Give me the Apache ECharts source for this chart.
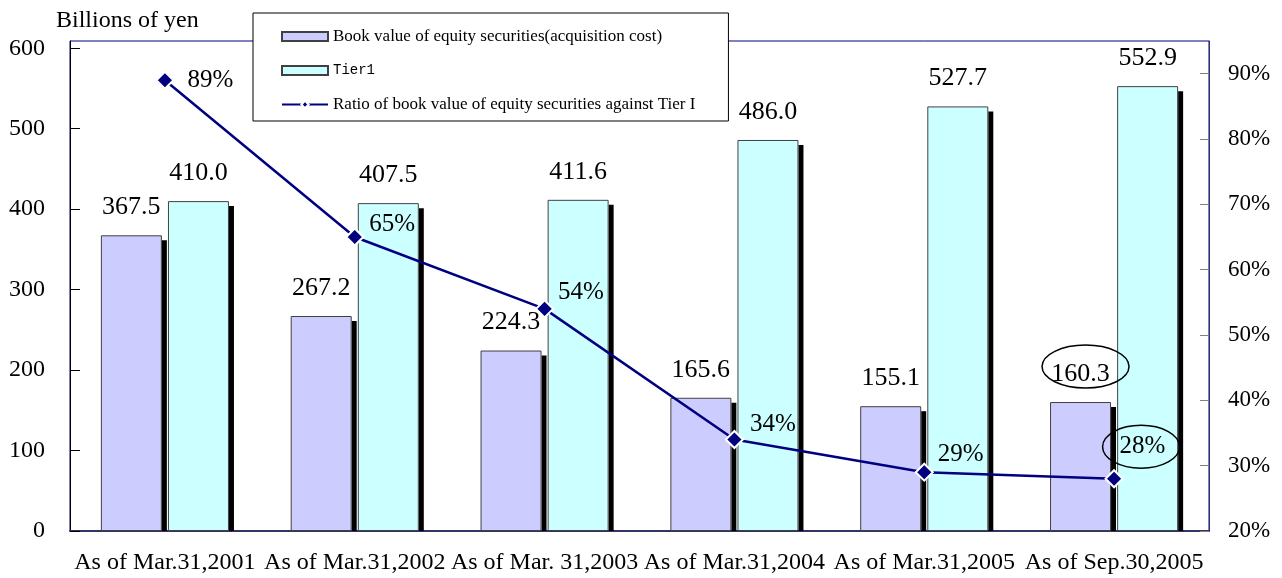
<!DOCTYPE html>
<html lang="en">
<head>
    <meta charset="UTF-8">
    <title>Equity securities vs Tier1</title>
    <script src="https://cdn.jsdelivr.net/npm/echarts@6/dist/echarts.min.js"></script>
    <style>
        * {
            margin: 0;
            padding: 0;
        }
        html, body {
            width: 100%;
            height: 100%;
            background: #fff;
        }
    </style>
</head>
<body>
<div id="main" style="width: 1282px;height: 578px"></div>
<script>
    var categories = ['As of Mar.31,2001', 'As of Mar.31,2002', 'As of Mar. 31,2003',
        'As of Mar.31,2004', 'As of Mar.31,2005', 'As of Sep.30,2005'];
    var bookValue = [367.5, 267.2, 224.3, 165.6, 155.1, 160.3];
    var tier1 = [410.0, 407.5, 411.6, 486.0, 527.7, 552.9];
    var ratio = [89, 65, 54, 34, 29, 28];
    // label nudges for the ratio line (px), kept apart from the values
    var ratioLabelOffset = [[8, 0], [0, -13], [-1, -16], [1, -15], [-1, -18], [-9, -32]];

    var FONT = '"Liberation Serif", "Times New Roman", serif';
    var BAR_W = 61, BAR_GAP = 6.1, SH = 5;

    function shadow(side) {
        // black drop shadow on the right side of each bar
        return function (params, api) {
            var top = api.coord([api.value(0), api.value(1)]);
            var base = api.coord([api.value(0), 0]);
            var x = top[0] + side * (BAR_W + BAR_GAP) / 2 + BAR_W / 2;
            return {
                type: 'rect',
                shape: {x: x, y: top[1] + SH, width: SH, height: base[1] - top[1] - SH},
                style: {fill: '#000'}
            };
        };
    }

    function ring(dx, dy, rx, ry) {
        return function (params, api) {
            var p = api.coord([api.value(0), api.value(1)]);
            return {
                type: 'ellipse',
                shape: {cx: p[0] + dx, cy: p[1] + dy, rx: rx, ry: ry},
                style: {fill: 'none', stroke: '#000', lineWidth: 1.5},
                z2: 10
            };
        };
    }

    var last = categories.length - 1;
    var myChart = echarts.init(document.getElementById('main'));
    var option = {
        animation: false,
        textStyle: {fontFamily: FONT, color: '#000'},
        title: {
            text: 'Billions of yen',
            left: 51,
            top: 4,
            textStyle: {fontFamily: FONT, fontWeight: 'normal', fontSize: 24, color: '#000'}
        },
        legend: {
            data: [
                {name: 'Book value of equity securities(acquisition cost)', icon: 'rect'},
                {name: 'Tier1', icon: 'rect'},
                {name: 'Ratio of book value of equity securities against Tier I'}
            ],
            orient: 'vertical',
            left: 253,
            top: 13,
            padding: [15, 33, 8, 28],
            itemGap: 18.5,
            itemWidth: 46,
            itemHeight: 9,
            backgroundColor: '#fff',
            borderColor: '#000',
            borderWidth: 1,
            formatter: function (name) {
                return name === 'Tier1' ? '{m|Tier1}' : name;
            },
            textStyle: {
                fontFamily: FONT, fontSize: 17, color: '#000',
                rich: {m: {fontFamily: '"Liberation Mono", monospace', fontSize: 14, color: '#000'}}
            }
        },
        grid: {
            left: 70,
            right: 73,
            top: 41,
            bottom: 47,
            show: true,
            borderColor: '#000080',
            borderWidth: 1
        },
        xAxis: {
            type: 'category',
            data: categories,
            axisLine: {lineStyle: {color: '#333366', width: 2}},
            axisTick: {inside: true, length: 8, lineStyle: {color: '#808080'}},
            axisLabel: {
                interval: 0,
                hideOverlap: false,
                margin: 20,
                fontFamily: FONT,
                fontSize: 24,
                color: '#000'
            }
        },
        yAxis: [{
            type: 'value',
            min: 0,
            max: 609,
            interval: 100,
            axisLine: {show: true, lineStyle: {color: '#000', width: 1}},
            axisTick: {show: true, inside: true, length: 10, lineStyle: {color: '#000'}},
            axisLabel: {showMaxLabel: false, margin: 25, fontFamily: FONT, fontSize: 24, color: '#000'},
            splitLine: {show: false}
        }, {
            type: 'value',
            min: 20,
            max: 95,
            interval: 10,
            position: 'right',
            axisLine: {show: true, lineStyle: {color: '#333366', width: 1}},
            axisTick: {show: true, inside: true, length: 9, lineStyle: {color: '#808080'}},
            axisLabel: {
                showMaxLabel: false, margin: 19, fontFamily: FONT, fontSize: 23, color: '#000',
                formatter: '{value}%'
            },
            splitLine: {show: false}
        }],
        series: [{
            type: 'custom',
            renderItem: shadow(-1),
            data: bookValue.map(function (v, i) { return [i, v]; }),
            z: 1,
            silent: true
        }, {
            type: 'custom',
            renderItem: shadow(1),
            data: tier1.map(function (v, i) { return [i, v]; }),
            z: 1,
            silent: true
        }, {
            name: 'Book value of equity securities(acquisition cost)',
            type: 'bar',
            data: bookValue,
            barWidth: BAR_W,
            barGap: '10%',
            z: 2,
            itemStyle: {color: '#CCCCFF', borderColor: '#404040', borderWidth: 1},
            label: {
                show: true,
                position: 'top',
                distance: 15,
                fontFamily: FONT,
                fontSize: 26,
                color: '#000',
                formatter: function (p) { return p.value.toFixed(1); }
            }
        }, {
            name: 'Tier1',
            type: 'bar',
            data: tier1,
            barWidth: BAR_W,
            z: 2,
            itemStyle: {color: '#CCFFFF', borderColor: '#404040', borderWidth: 1},
            label: {
                show: true,
                position: 'top',
                distance: 15,
                fontFamily: FONT,
                fontSize: 26,
                color: '#000',
                formatter: function (p) { return p.value.toFixed(1); }
            }
        }, {
            name: 'Ratio of book value of equity securities against Tier I',
            type: 'line',
            yAxisIndex: 1,
            z: 5,
            data: ratio.map(function (v, i) {
                return {value: v, label: {offset: ratioLabelOffset[i]}};
            }),
            symbol: 'diamond',
            symbolSize: 17,
            lineStyle: {color: '#000080', width: 2.5},
            itemStyle: {color: '#000080', borderColor: '#fff', borderWidth: 2},
            label: {
                show: true,
                position: 'right',
                distance: 5,
                fontFamily: FONT,
                fontSize: 25,
                color: '#000',
                formatter: '{c}%'
            }
        }, {
            type: 'custom',
            renderItem: ring(-BAR_W / 2 - BAR_GAP / 2 + 5, -35.5, 43.5, 21.5),
            data: [[last, bookValue[last]]],
            z: 6,
            silent: true
        }, {
            type: 'custom',
            yAxisIndex: 1,
            renderItem: ring(27, -32, 38.5, 21.5),
            data: [[last, ratio[last]]],
            z: 6,
            silent: true
        }]
    };
    myChart.setOption(option);
</script>
</body>
</html>
